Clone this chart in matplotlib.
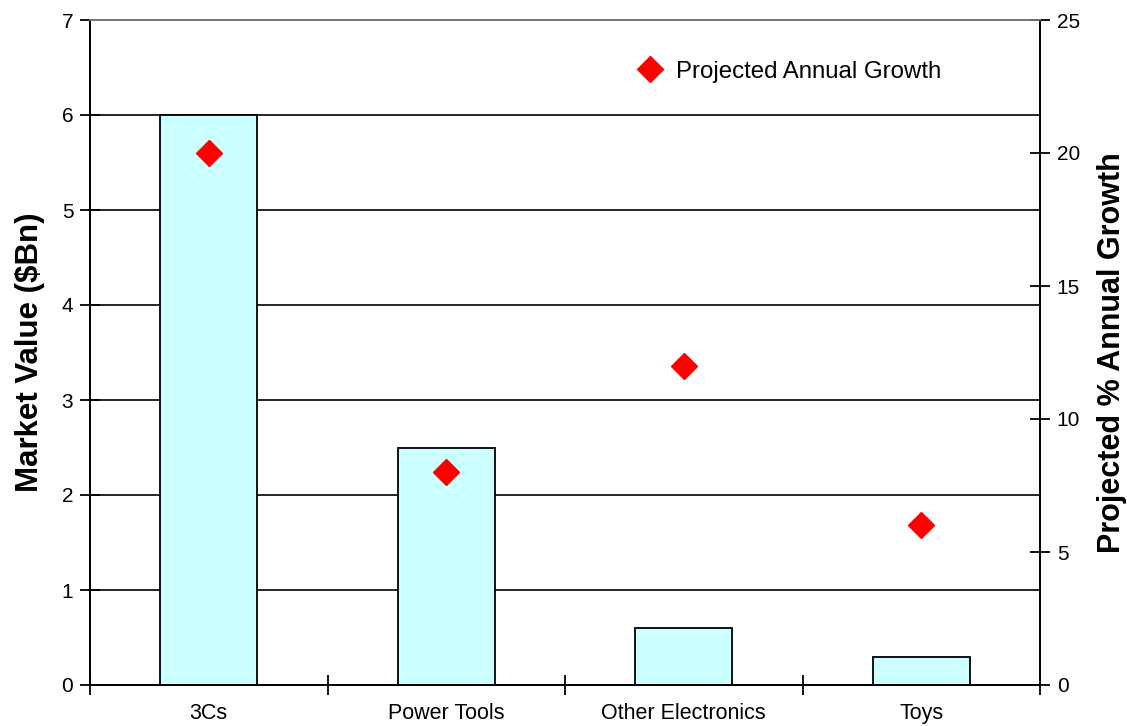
import matplotlib
matplotlib.use("Agg")
import matplotlib.pyplot as plt
from matplotlib.lines import Line2D

plt.rcParams['font.family'] = ['Liberation Sans', 'DejaVu Sans']

categories = ["3Cs", "Power Tools", "Other Electronics", "Toys"]
market_value = [6.0, 2.5, 0.6, 0.3]          # $Bn
annual_growth = [20, 8, 12, 6]               # projected % per year

fig = plt.figure(figsize=(11.27, 7.26), dpi=100)
ax = fig.add_axes([90 / 1127, 41 / 726, 950 / 1127, 665 / 726])
ax2 = ax.twinx()

x = list(range(len(categories)))
ax.bar(x, market_value, width=0.41, color="#CCFFFF", edgecolor="black",
       linewidth=1.3, zorder=3)
ax.set_xlim(-0.5, len(categories) - 0.5)
ax.set_ylim(0, 7)
ax.set_yticks(range(0, 8))
for v in range(1, 7):
    ax.axhline(v, color="black", linewidth=1.2, zorder=1)

# category boundaries as major ticks, names as minor ticks
ax.set_xticks([i - 0.5 for i in range(len(categories) + 1)])
ax.set_xticklabels([])
ax.set_xticks(x, minor=True)
ax.set_xticklabels(categories, minor=True, fontsize=15.5)
ax.tick_params(axis="x", which="major", direction="inout", length=14, width=1.3)
ax.tick_params(axis="x", which="minor", length=0, pad=13)
ax.tick_params(axis="y", direction="inout", length=14, width=1.3, labelsize=15, pad=5)
ax.set_ylabel("Market Value ($Bn)", fontsize=22.5, fontweight="bold", labelpad=12)

ax2.plot(x, annual_growth, linestyle="none", marker="D", markersize=13,
         color="red", markeredgecolor="red", zorder=5)
ax2.set_ylim(0, 25)
ax2.set_yticks(range(0, 26, 5))
ax2.tick_params(axis="y", direction="inout", length=14, width=1.3, labelsize=15, pad=5)
ax2.set_ylabel("Projected % Annual Growth", fontsize=22, fontweight="bold", labelpad=12)

for a in (ax, ax2):
    a.spines["left"].set_linewidth(1.3)
    a.spines["right"].set_linewidth(1.3)
    a.spines["bottom"].set_linewidth(1.3)
    a.spines["top"].set_color("#777777")
    a.spines["top"].set_linewidth(1.3)

handle = Line2D([], [], linestyle="none", marker="D", markersize=13, color="red")
ax2.legend([handle], ["Projected Annual Growth"], loc="center left",
           bbox_to_anchor=(0.552, 0.922), frameon=False, fontsize=17.3,
           handletextpad=0.45, handlelength=1.2)

fig.savefig("out.png", dpi=100)
